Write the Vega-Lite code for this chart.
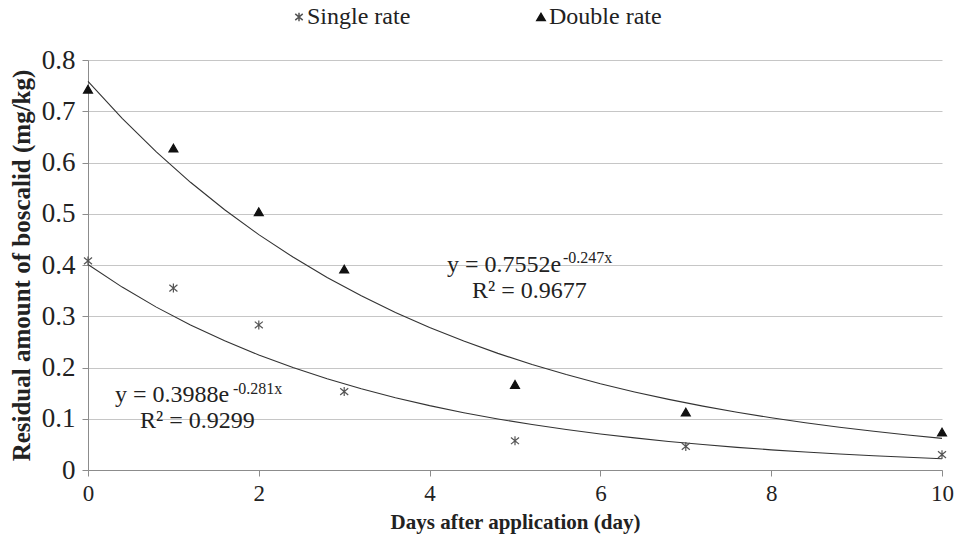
{
  "$schema": "https://vega.github.io/schema/vega-lite/v6.json",
  "width": 854,
  "height": 410,
  "autosize": {"type": "none"},
  "padding": {"left": 88, "top": 60, "right": 13, "bottom": 77},
  "background": "white",
  "config": {
    "view": {"stroke": null},
    "font": "Liberation Serif",
    "axis": {
      "labelFont": "Liberation Serif",
      "titleFont": "Liberation Serif",
      "labelColor": "#222",
      "titleColor": "#222",
      "domainColor": "#8c8c8c",
      "tickColor": "#8c8c8c",
      "tickSize": 6,
      "labelFlush": false,
      "titleFontWeight": "bold"
    }
  },
  "datasets": {
    "pts": [
      {"day": 0, "residue": 0.408, "series": "Single rate"},
      {"day": 1, "residue": 0.355, "series": "Single rate"},
      {"day": 2, "residue": 0.283, "series": "Single rate"},
      {"day": 3, "residue": 0.153, "series": "Single rate"},
      {"day": 5, "residue": 0.057, "series": "Single rate"},
      {"day": 7, "residue": 0.046, "series": "Single rate"},
      {"day": 10, "residue": 0.030, "series": "Single rate"},
      {"day": 0, "residue": 0.743, "series": "Double rate"},
      {"day": 1, "residue": 0.628, "series": "Double rate"},
      {"day": 2, "residue": 0.504, "series": "Double rate"},
      {"day": 3, "residue": 0.392, "series": "Double rate"},
      {"day": 5, "residue": 0.167, "series": "Double rate"},
      {"day": 7, "residue": 0.113, "series": "Double rate"},
      {"day": 10, "residue": 0.074, "series": "Double rate"}
    ],
    "notes": [
      {"day": 4.204, "residue": 0.387, "label": "y = 0.7552e", "kind": "main"},
      {"day": 5.562, "residue": 0.404, "label": "-0.247x", "kind": "sup"},
      {"day": 4.497, "residue": 0.336, "label": "R² = 0.9677", "kind": "main"},
      {"day": 0.316, "residue": 0.132, "label": "y = 0.3988e", "kind": "main"},
      {"day": 1.698, "residue": 0.148, "label": "-0.281x", "kind": "sup"},
      {"day": 0.609, "residue": 0.081, "label": "R² = 0.9299", "kind": "main"}
    ]
  },
  "encoding": {
    "x": {
      "field": "day", "type": "quantitative",
      "scale": {"domain": [0, 10], "nice": false, "zero": false},
      "axis": {"values": [0, 2, 4, 6, 8, 10], "format": "d", "grid": false, "title": "Days after application (day)", "labelFontSize": 23, "titleFontSize": 21, "labelPadding": 6, "titlePadding": 6}
    },
    "y": {
      "field": "residue", "type": "quantitative",
      "scale": {"domain": [0, 0.8], "nice": false},
      "axis": {"values": [0, 0.1, 0.2, 0.3, 0.4, 0.5, 0.6, 0.7, 0.8], "format": ".1~f", "grid": true, "gridColor": "#c6c6c6", "title": "Residual amount of boscalid (mg/kg)", "labelFontSize": 27, "titleFontSize": 25, "labelPadding": 7, "titlePadding": 7}
    }
  },
  "layer": [
    {
      "data": {"name": "pts"},
      "transform": [
        {"calculate": "log(datum.residue)", "as": "lnres"},
        {"regression": "lnres", "on": "day", "groupby": ["series"], "method": "poly", "order": 1, "extent": [0, 10]},
        {"calculate": "exp(datum.lnres)", "as": "residue"}
      ],
      "mark": {"type": "line", "color": "#333", "strokeWidth": 1.1},
      "encoding": {
        "detail": {"field": "series"}
      }
    },
    {
      "data": {"name": "pts"},
      "mark": {"type": "point", "opacity": 1, "strokeWidth": 1.2},
      "encoding": {
        "shape": {
          "field": "series", "type": "nominal",
          "scale": {"domain": ["Single rate", "Double rate"], "range": ["M0,-1L0,1M-0.9,-0.75L0.9,0.75M-0.9,0.75L0.9,-0.75", "triangle-up"]},
          "legend": {
            "title": null, "orient": "none", "direction": "horizontal", "legendX": 199, "legendY": -55,
            "labelFont": "Liberation Serif", "labelFontSize": 24, "labelColor": "#222", "columnPadding": 118, "symbolSize": 70, "labelOffset": -4
          }
        },
        "fill": {
          "field": "series", "type": "nominal",
          "scale": {"domain": ["Single rate", "Double rate"], "range": ["transparent", "#111"]}
        },
        "stroke": {
          "field": "series", "type": "nominal",
          "scale": {"domain": ["Single rate", "Double rate"], "range": ["#555", "#111"]}
        },
        "size": {"value": 80}
      }
    },
    {
      "data": {"name": "notes"},
      "transform": [{"filter": "datum.kind === 'main'"}],
      "mark": {"type": "text", "align": "left", "baseline": "alphabetic", "font": "Liberation Serif", "fontSize": 24, "color": "#222"},
      "encoding": {
        "text": {"field": "label"}
      }
    },
    {
      "data": {"name": "notes"},
      "transform": [{"filter": "datum.kind === 'sup'"}],
      "mark": {"type": "text", "align": "left", "baseline": "alphabetic", "font": "Liberation Serif", "fontSize": 16, "color": "#222"},
      "encoding": {
        "text": {"field": "label"}
      }
    }
  ]
}
